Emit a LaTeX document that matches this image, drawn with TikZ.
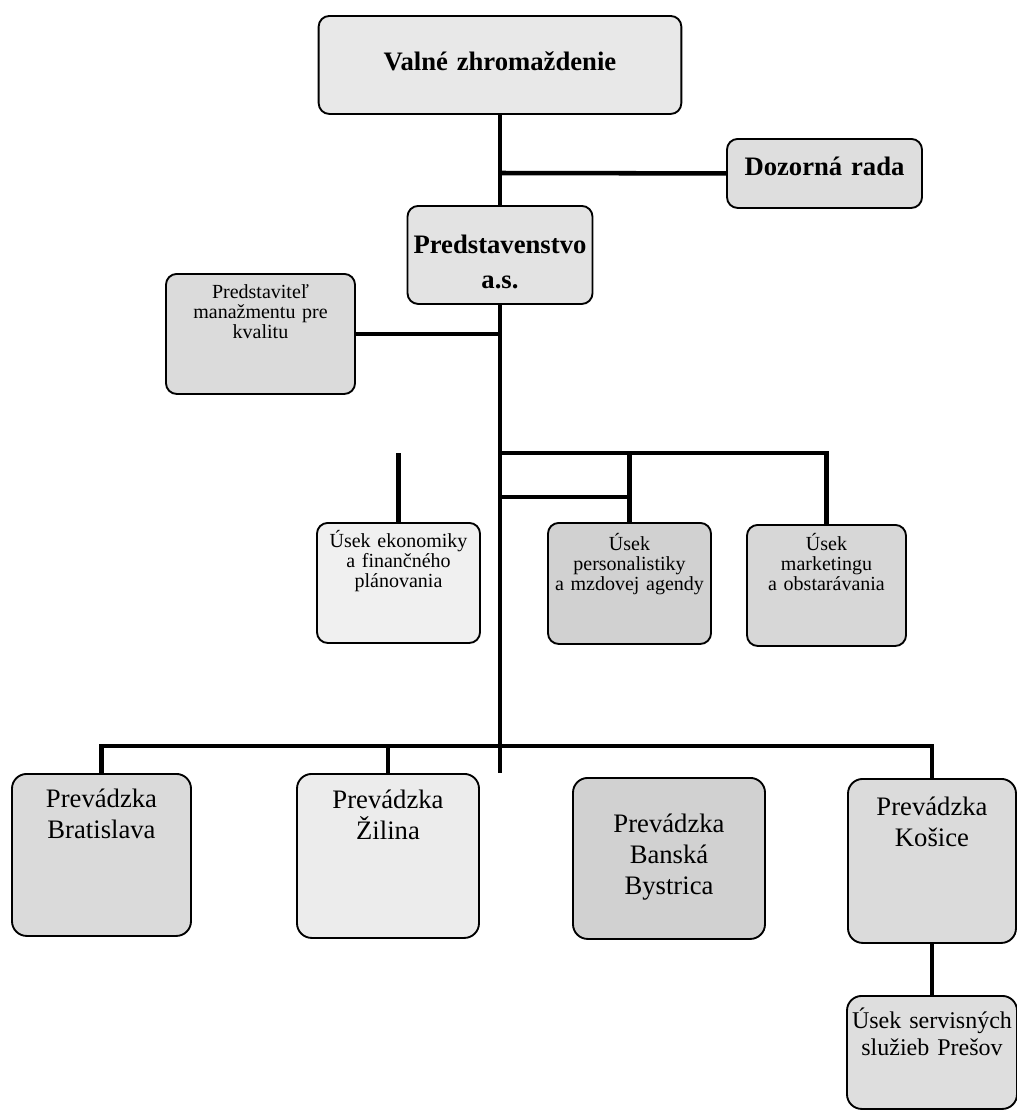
\documentclass[tikz,border=0pt]{standalone}
\usepackage{fontspec}
\setmainfont{Liberation Serif}
\usepackage{tikz}

\begin{document}
\begin{tikzpicture}[x=0.75pt,y=-0.75pt,
  every node/.append style={draw,line width=1.4pt,rounded corners=8pt,
    align=center,inner xsep=2pt,inner ysep=0pt,anchor=north},
  conn/.style={line width=3.4pt}]
  \tikzstyle{head} = [font=\bfseries\fontsize{20}{26}\selectfont]
  \tikzstyle{unit} = [font=\fontsize{15}{15}\selectfont]
  \tikzstyle{site} = [font=\fontsize{20}{23.25}\selectfont,rounded corners=11pt]
  \useasboundingbox (0,0) rectangle (1017,1111);
  % vedenie
  \node (valne) [head,fill=gray!18,text width=268pt,text height=41.25pt,text depth=32.25pt] at (500,15) {Valné zhromaždenie};
  \node (dozor) [head,fill=gray!26,text width=142.25pt,text height=27.75pt,text depth=24pt] at (824.5,138) {Dozorná rada};
  \node (pred) [head,fill=gray!22,text width=134.75pt,text height=36pt,text depth=37.5pt] at (500,205) {Predstavenstvo\\a.s.};
  \node (kval) [unit,fill=gray!28,text width=137.75pt,text height=18.75pt,text depth=71.25pt] at (260.5,273) {Predstaviteľ\\manažmentu pre\\kvalitu};
  % useky
  \node (ekon) [unit,fill=gray!12,text width=118.25pt,text height=18.75pt,text depth=71.25pt] at (398.5,522) {Úsek ekonomiky\\a finančného\\plánovania};
  \node (pers) [unit,fill=gray!36,text width=118.25pt,text height=21pt,text depth=69.75pt] at (629.5,522) {Úsek\\personalistiky\\a mzdovej agendy};
  \node (mark) [unit,fill=gray!31,text width=115.25pt,text height=19.5pt,text depth=71.25pt] at (826.5,524) {Úsek\\marketingu\\a obstarávania};
  % prevadzky
  \node (ba) [site,fill=gray!29,text width=130.25pt,text height=25.5pt,text depth=96pt] at (101.5,773) {Prevádzka\\Bratislava};
  \node (za) [site,fill=gray!15,text width=132.5pt,text height=26.25pt,text depth=96.75pt] at (388,773) {Prevádzka\\Žilina};
  \node (bb) [site,fill=gray!36,text width=140pt,text height=41.25pt,text depth=79.5pt] at (669,777) {Prevádzka\\Banská\\Bystrica};
  \node (ke) [site,fill=gray!28,text width=122pt,text height=27.75pt,text depth=95.25pt] at (932,778) {Prevádzka\\Košice};
  \node (po) [site,fill=gray!26,font=\fontsize{18}{20}\selectfont,text width=123.5pt,text height=24.75pt,text depth=60pt] at (932,995) {Úsek servisných\\služieb Prešov};
  % spojnice
  \coordinate (t1) at (500,173);
  \coordinate (t2) at (500,336);
  \coordinate (t3) at (500,453);
  \coordinate (t4) at (500,497);
  \coordinate (t5) at (500,746);
  \coordinate (t6) at (500,773);
  \draw[conn] (valne) -- (pred);
  \draw[conn] (t1) -- (dozor.west);
  \draw[conn] (pred) -- (t6);
  \draw[conn] (kval.east) -- (kval.east -| t2);
  \draw[conn] (t3) -| (mark);
  \draw[conn] (pers) -- (pers |- t3);
  \draw[conn] (t4) -- (t4 -| pers);
  \draw[conn] (ekon) -- (ekon |- t3);
  \draw[conn] (ba.north) |- (t5) -| (ke.north);
  \draw[conn] (za.north) -- (za.north |- t5);
  \draw[conn] (ke) -- (po);
\end{tikzpicture}
\end{document}
